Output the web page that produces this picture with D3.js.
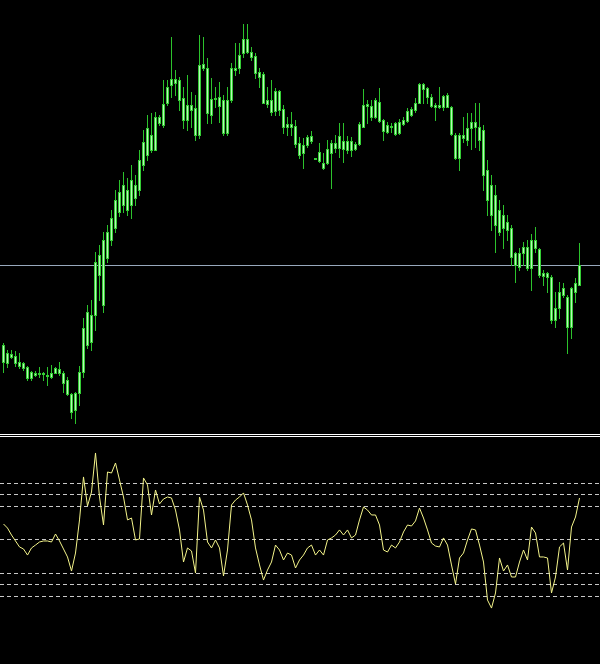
<!DOCTYPE html>
<html><head><meta charset="utf-8">
<script src="https://cdn.jsdelivr.net/npm/d3@7/dist/d3.min.js"></script>
<style>html,body{margin:0;padding:0;background:#000;overflow:hidden}</style>
</head><body>
<svg id="c" width="600" height="664"></svg>
<script>
// Candles: [open, high, low, close] in price units
const candles = [
[95,97,68,78],[87,90,73,77],[83,90,82,86],[84,89,74,77],[78,87,72,74],[77,78,70,72],[73,74,60,62],[62,69,60,68],
[65,69,64,67],[67,73,63,66],[66,68,60,67],[65,73,55,64],[63,75,62,67],[67,73,67,72],[71,78,65,67],[67,69,48,57],
[60,63,45,46],[46,47,22,28],[30,48,17,47],[47,74,35,68],[68,122,63,112],[128,135,92,95],[98,140,90,125],[125,188,110,178],
[185,195,140,165],[200,208,128,135],[182,215,178,208],[200,230,195,222],[212,250,208,240],[248,260,224,228],[255,268,228,235],[250,262,225,230],
[235,275,222,260],[255,265,235,242],[250,290,245,280],[275,310,270,298],[312,325,280,285],[305,327,288,290],[290,328,290,323],[323,325,315,317],
[315,360,313,336],[337,360,335,353],[355,403,343,361],[361,370,345,357],[360,363,330,340],[342,353,312,320],[320,365,310,335],[335,348,313,330],
[332,345,300,305],[305,405,302,375],[376,403,370,372],[372,382,317,327],[341,362,317,325],[341,353,333,342],[343,358,318,334],[340,345,305,307],
[307,353,305,340],[340,377,338,372],[370,397,365,372],[372,397,367,385],[387,416,383,401],[401,416,387,388],[388,393,380,383],[384,387,362,367],
[368,372,353,363],[366,368,337,337],[336,353,333,340],[340,360,325,328],[329,352,325,349],[349,350,325,330],[331,335,307,313],[313,323,305,316],
[316,328,305,313],[314,320,293,296],[297,303,282,285],[287,302,272,295],[295,305,293,303],[304,309,297,299],[282,282,281,281],[279,297,278,288],
[277,287,271,272],[277,300,276,291],[287,300,252,297],[292,305,288,297],[292,317,283,304],[299,317,278,291],[290,304,287,299],[299,303,284,290],
[291,298,290,296],[296,318,295,316],[313,351,313,335],[334,340,317,336],[334,340,320,323],[323,342,322,340],[338,352,318,319],[320,321,300,309],
[308,318,307,315],[314,317,308,313],[317,318,305,306],[307,321,306,318],[316,323,315,320],[319,332,318,329],[325,333,324,331],[330,342,328,337],
[337,357,337,356],[356,357,337,351],[352,353,337,343],[343,346,333,334],[335,337,320,333],[333,353,332,335],[333,345,330,344],[345,347,333,333],
[333,334,305,306],[305,307,281,282],[282,307,270,305],[302,323,298,305],[300,327,295,312],[312,327,291,318],[313,337,293,318],[313,337,290,300],
[310,315,250,265],[270,280,225,240],[255,265,210,225],[215,255,188,245],[230,240,205,208],[212,235,192,225],[218,225,200,210],[212,215,175,183],
[187,188,158,175],[173,192,170,187],[187,198,175,193],[193,200,170,172],[172,206,150,200],[200,213,188,192],[191,192,163,165],[164,170,155,167],
[167,168,148,163],[163,165,117,120],[120,148,113,132],[132,158,122,148],[145,157,143,152],[143,145,87,113],[113,153,102,152],[148,162,138,157],
[155,197,155,175]
];
const bidPrice = 175;

// Oscillator values, one per candle
const osc = [
13.6,10.0,3.8,-1.5,-6.8,-8.6,-14.0,-7.7,-5.1,-2.4,-1.5,-1.5,-2.4,4.7,-1.5,-8.6,
-15.7,-28.2,-12.2,17.2,55.4,29.6,42.0,76.7,37.6,12.7,59.8,58.9,67.8,52.7,37.6,17.2,
18.9,-0.6,0.3,54.5,48.3,21.6,43.8,31.4,35.8,37.6,36.7,26.0,8.3,-20.2,-7.7,-10.4,
-30.0,37.6,26.0,-2.4,-7.7,-0.6,-7.7,-32.6,-9.5,30.5,34.9,37.6,41.2,30.5,17.2,-7.7,
-22.8,-36.2,-27.3,-20.2,-5.1,-9.5,-18.4,-12.2,-14.0,-25.5,-18.4,-14.0,-7.7,-5.1,-14.0,-9.5,
-14.0,-0.6,1.2,3.8,8.3,3.8,8.3,1.2,3.8,17.2,28.7,26.0,21.6,21.6,12.7,-9.5,
-11.3,-5.1,-7.7,-2.4,6.5,12.7,11.8,16.3,27.8,18.9,8.3,-3.3,-6.0,-6.8,1.2,-5.1,
-22.8,-39.7,-16.6,-12.2,-0.6,9.2,8.3,-5.1,-20.2,-54.0,-61.1,-47.7,-16.6,-28.2,-22.8,-33.5,
-33.5,-20.2,-9.5,-18.4,10.9,5.6,-15.7,-15.7,-16.6,-47.7,-33.5,-6.8,-3.3,-27.3,10.9,19.8,
36.7
];
const oscLevels = [50, 40, 30, 0, -30, -40, -50];

const W = 600, H = 664;
const svg = d3.select("#c");
svg.append("rect").attr("width", W).attr("height", H).attr("fill", "#000");

const x = d3.scaleLinear().domain([0, candles.length - 1]).range([3, 3 + 4 * (candles.length - 1)]);
const y = d3.scaleLinear().domain([0, 440]).range([440, 0]);
const yo = d3.scaleLinear().domain([-110.8, 90]).range([664, 438]);

const wickCol = "#2cc22c", bodyCol = "#34cc34", innerCol = "#b8f6b8";

// bid line
svg.append("line").attr("x1", 0).attr("x2", W)
  .attr("y1", Math.round(y(bidPrice)) + 0.5).attr("y2", Math.round(y(bidPrice)) + 0.5)
  .attr("stroke", "#98a8bc").attr("stroke-width", 1);

const g = svg.append("g");
candles.forEach((d, i) => {
  const [o, h, l, c] = d;
  const cx = Math.round(x(i));
  g.append("line").attr("x1", cx + 0.5).attr("x2", cx + 0.5)
    .attr("y1", Math.round(y(h))).attr("y2", Math.round(y(l)) + 1)
    .attr("stroke", wickCol).attr("stroke-width", 1);
  const top = Math.round(y(Math.max(o, c)));
  const bot = Math.round(y(Math.min(o, c)));
  const hh = Math.max(1, bot - top + 1);
  g.append("rect").attr("x", cx - 1).attr("y", top).attr("width", 3).attr("height", hh).attr("fill", bodyCol);
  if (hh > 2) {
    g.append("rect").attr("x", cx).attr("y", top + 1).attr("width", 1).attr("height", hh - 2).attr("fill", innerCol);
  }
});

// separator
[434.5, 436.5].forEach(v => svg.append("line").attr("x1", 0).attr("x2", W).attr("y1", v).attr("y2", v)
  .attr("stroke", "#fff").attr("stroke-width", 1));

// oscillator levels
oscLevels.forEach(v => svg.append("line").attr("x1", 0).attr("x2", W)
  .attr("y1", Math.round(yo(v)) + 0.5).attr("y2", Math.round(yo(v)) + 0.5)
  .attr("stroke", "#c8c8c8").attr("stroke-width", 1).attr("stroke-dasharray", "4,3"));

// oscillator line
const line = d3.line().x((d, i) => x(i) + 0.5).y(d => yo(d));
svg.append("path").datum(osc).attr("d", line).attr("fill", "none")
  .attr("stroke", "#f4f48a").attr("stroke-width", 1);
</script>
</body></html>
